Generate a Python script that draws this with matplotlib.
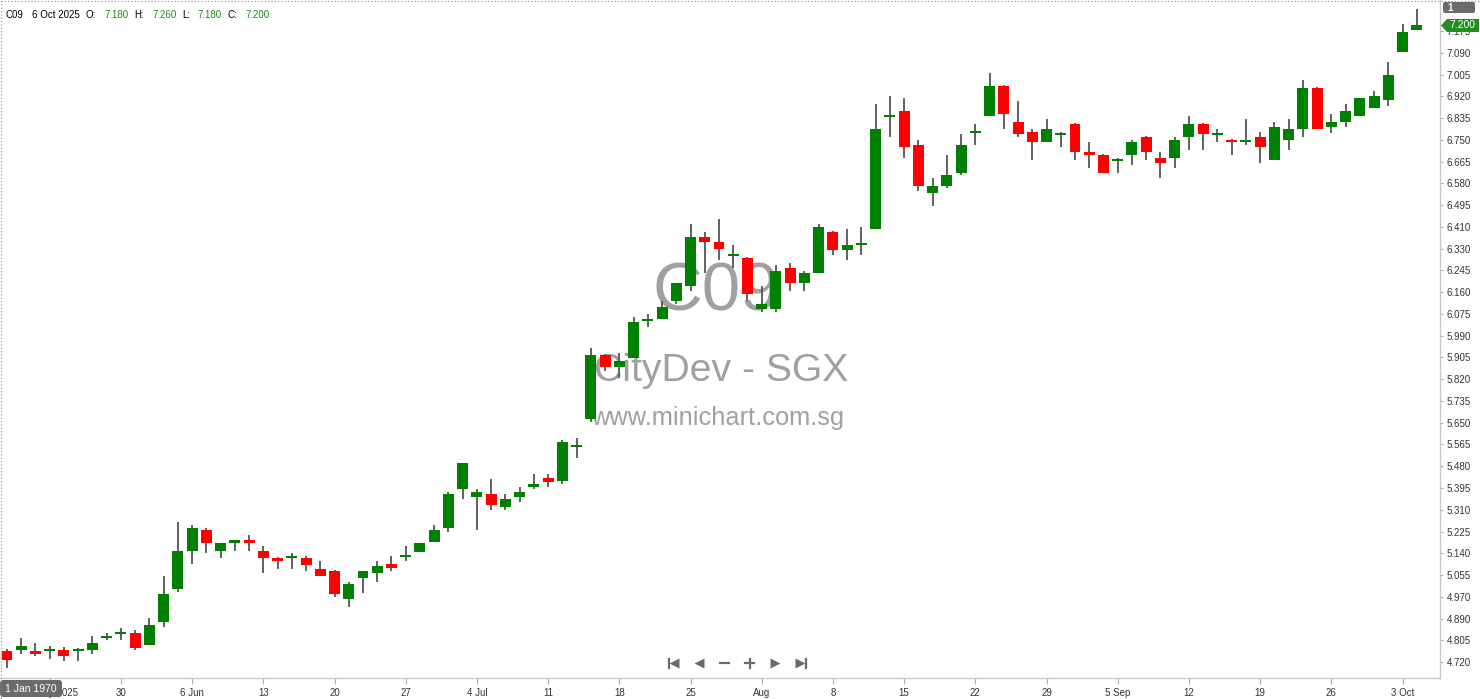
"""
C09 (CityDev - SGX) daily candlestick chart, 20 May 2025 - 6 Oct 2025.
Saves out.png (1480x699).
"""

import matplotlib
matplotlib.use("Agg")
import matplotlib.pyplot as plt
import matplotlib.patches as mpatches
import numpy as np

W, H, DPI = 1480, 699, 100

UP_COLOR = "#008000"
DOWN_COLOR = "#ff0000"
WICK_COLOR = "#555555"
TEXT_COLOR = "#333333"
FONT = "Liberation Sans"
FS = 7

TICKER = "C09"
NAME = "CityDev - SGX"
SITE = "www.minichart.com.sg"
LAST_DATE = "6 Oct 2025"

opens = [
    4.764, 4.765, 4.764, 4.762, 4.765, 4.762, 4.765, 4.813, 4.830, 4.834,
    4.787, 4.874, 5.005, 5.153, 5.234, 5.153, 5.184, 5.195, 5.152, 5.125,
    5.126, 5.125, 5.082, 5.074, 4.964, 5.046, 5.065, 5.101, 5.130, 5.147,
    5.186, 5.243, 5.394, 5.363, 5.374, 5.324, 5.363, 5.402, 5.436, 5.424,
    5.556, 5.664, 5.915, 5.867, 5.904, 6.046, 6.056, 6.126, 6.184, 6.374,
    6.354, 6.300, 6.292, 6.095, 6.095, 6.253, 6.196, 6.235, 6.393, 6.324,
    6.343, 6.406, 6.841, 6.864, 6.732, 6.546, 6.573, 6.624, 6.780, 6.846,
    6.961, 6.821, 6.782, 6.744, 6.771, 6.813, 6.703, 6.693, 6.671, 6.694,
    6.763, 6.681, 6.682, 6.764, 6.813, 6.771, 6.751, 6.744, 6.763, 6.674,
    6.752, 6.795, 6.953, 6.803, 6.822, 6.846, 6.874, 6.906, 7.094, 7.180,
]
highs = [
    4.769, 4.813, 4.795, 4.782, 4.777, 4.773, 4.821, 4.833, 4.852, 4.845,
    4.891, 5.056, 5.265, 5.253, 5.241, 5.183, 5.195, 5.214, 5.171, 5.129,
    5.145, 5.134, 5.114, 5.078, 5.032, 5.075, 5.113, 5.132, 5.171, 5.184,
    5.253, 5.383, 5.496, 5.393, 5.432, 5.374, 5.401, 5.452, 5.452, 5.584,
    5.592, 5.942, 5.918, 5.921, 6.064, 6.073, 6.123, 6.195, 6.423, 6.392,
    6.444, 6.343, 6.296, 6.183, 6.265, 6.273, 6.241, 6.424, 6.397, 6.405,
    6.413, 6.891, 6.922, 6.915, 6.751, 6.603, 6.693, 6.774, 6.813, 7.012,
    6.965, 6.903, 6.794, 6.833, 6.782, 6.817, 6.743, 6.697, 6.681, 6.751,
    6.767, 6.704, 6.763, 6.844, 6.817, 6.794, 6.755, 6.833, 6.783, 6.821,
    6.833, 6.985, 6.957, 6.851, 6.890, 6.913, 6.943, 7.055, 7.202, 7.260,
]
lows = [
    4.695, 4.752, 4.745, 4.733, 4.725, 4.725, 4.752, 4.804, 4.804, 4.765,
    4.787, 4.855, 4.993, 5.102, 5.145, 5.126, 5.153, 5.153, 5.065, 5.083,
    5.083, 5.075, 5.056, 4.974, 4.935, 4.987, 5.032, 5.075, 5.114, 5.147,
    5.186, 5.225, 5.355, 5.235, 5.313, 5.313, 5.344, 5.394, 5.401, 5.413,
    5.515, 5.655, 5.853, 5.824, 5.904, 6.025, 6.056, 6.114, 6.165, 6.235,
    6.284, 6.254, 6.126, 6.083, 6.083, 6.165, 6.165, 6.235, 6.304, 6.284,
    6.305, 6.406, 6.764, 6.682, 6.554, 6.496, 6.566, 6.615, 6.733, 6.846,
    6.795, 6.764, 6.674, 6.744, 6.724, 6.674, 6.643, 6.624, 6.624, 6.655,
    6.674, 6.604, 6.643, 6.712, 6.712, 6.744, 6.693, 6.733, 6.663, 6.674,
    6.713, 6.764, 6.795, 6.777, 6.803, 6.846, 6.874, 6.885, 7.094, 7.180,
]
closes = [
    4.727, 4.782, 4.752, 4.765, 4.745, 4.765, 4.795, 4.821, 4.834, 4.776,
    4.864, 4.985, 5.153, 5.241, 5.184, 5.183, 5.195, 5.184, 5.126, 5.114,
    5.134, 5.096, 5.056, 4.986, 5.024, 5.075, 5.094, 5.085, 5.134, 5.184,
    5.234, 5.374, 5.496, 5.381, 5.332, 5.354, 5.381, 5.414, 5.420, 5.576,
    5.562, 5.915, 5.867, 5.890, 6.042, 6.055, 6.101, 6.195, 6.374, 6.355,
    6.326, 6.304, 6.153, 6.113, 6.241, 6.196, 6.234, 6.413, 6.324, 6.343,
    6.345, 6.794, 6.845, 6.725, 6.573, 6.572, 6.615, 6.732, 6.782, 6.961,
    6.853, 6.776, 6.744, 6.794, 6.775, 6.706, 6.694, 6.624, 6.675, 6.743,
    6.706, 6.663, 6.751, 6.813, 6.776, 6.775, 6.744, 6.751, 6.725, 6.802,
    6.794, 6.953, 6.795, 6.820, 6.864, 6.913, 6.921, 7.003, 7.170, 7.200,
]

# weekly (Friday) date labels, first one falls on the 4th bar (23 May)
FIRST_TICK_BAR = 3
x_tick_labels = [
    "23 May 2025", "30", "6 Jun", "13", "20", "27", "4 Jul", "11", "18", "25",
    "Aug", "8", "15", "22", "29", "5 Sep", "12", "19", "26", "3 Oct",
]
y_tick_labels = [
    "4.720", "4.805", "4.890", "4.970", "5.055", "5.140", "5.225", "5.310",
    "5.395", "5.480", "5.565", "5.650", "5.735", "5.820", "5.905", "5.990",
    "6.075", "6.160", "6.245", "6.330", "6.410", "6.495", "6.580", "6.665",
    "6.750", "6.835", "6.920", "7.005", "7.090", "7.175",
]
Y_MIN, Y_MAX = 4.658, 7.296


def draw_candles(ax):
    o = np.array(opens)
    h = np.array(highs)
    l = np.array(lows)
    c = np.array(closes)
    x = np.arange(len(o))
    up = c >= o
    colors = np.where(up, UP_COLOR, DOWN_COLOR)

    ax.vlines(x, l, h, color=WICK_COLOR, linewidth=1.3, zorder=2)
    bottom = np.minimum(o, c)
    height = np.maximum(np.abs(c - o), 0.007)
    ax.bar(x, height, bottom=bottom, width=0.77, color=colors,
           edgecolor="none", zorder=3)


def draw_overlay(fig):
    # pixel-space overlay for header, tags, nav buttons and border
    ov = fig.add_axes([0, 0, 1, 1], zorder=10)
    ov.set_xlim(0, W)
    ov.set_ylim(H, 0)
    ov.set_axis_off()
    ov.patch.set_alpha(0)

    # header line
    green = "#1a8a1a"
    parts = [
        (TICKER, 5, "black"),
        (LAST_DATE, 32, "black"),
        ("O:", 86, "black"),
        (f"{opens[-1]:.3f}", 104, green),
        ("H:", 134, "black"),
        (f"{highs[-1]:.3f}", 152, green),
        ("L:", 182, "black"),
        (f"{lows[-1]:.3f}", 197, green),
        ("C:", 228, "black"),
        (f"{closes[-1]:.3f}", 245, green),
    ]
    for txt, px, col in parts:
        ov.text(px, 15, txt, color=col, fontsize=FS, va="center",
                ha="left", family=FONT)

    # "1" box top right
    ov.add_patch(mpatches.FancyBboxPatch(
        (1443, 2), 32, 11, boxstyle="round,pad=0,rounding_size=2",
        facecolor="#6b6b6b", edgecolor="none"))
    ov.text(1447, 8, "1", color="white", fontsize=FS, fontweight="bold",
            va="center", ha="left", family=FONT)

    # last price tag
    tag = mpatches.Polygon(
        [(1441, 25.5), (1447, 19), (1479, 19), (1479, 32), (1447, 32)],
        closed=True, facecolor="#1f8f1f", edgecolor="none")
    ov.add_patch(tag)
    ov.text(1462, 25.5, f"{closes[-1]:.3f}", color="white", fontsize=FS + 0.5,
            va="center", ha="center", family=FONT)

    # "1 Jan 1970" box bottom left
    ov.add_patch(mpatches.FancyBboxPatch(
        (0, 680), 62, 17, boxstyle="round,pad=0,rounding_size=3",
        facecolor="#6b6b6b", edgecolor="none"))
    ov.text(31, 688.5, "1 Jan 1970", color="white", fontsize=FS + 0.5,
            va="center", ha="center", family=FONT)

    # navigation buttons
    nav = "#6a6a6a"
    yb = 663
    ov.plot([668.5, 668.5], [yb - 4.5, yb + 4.5], color=nav, lw=1.6)
    ov.plot(674, yb, marker="<", ms=7, color=nav, mec="none")
    ov.plot(699, yb, marker="<", ms=7, color=nav, mec="none")
    ov.plot([720, 729], [yb, yb], color=nav, lw=1.6)
    ov.plot([745, 754], [yb, yb], color=nav, lw=1.6)
    ov.plot([749.5, 749.5], [yb - 4.5, yb + 4.5], color=nav, lw=1.6)
    ov.plot(775, yb, marker=">", ms=7, color=nav, mec="none")
    ov.plot(800, yb, marker=">", ms=7, color=nav, mec="none")
    ov.plot([805.5, 805.5], [yb - 4.5, yb + 4.5], color=nav, lw=1.6)

    # dotted outer border
    ov.add_patch(mpatches.Rectangle((0.5, 0.5), W - 1, H - 1, fill=False,
                                    edgecolor="#888888", linestyle=(0, (1, 2)),
                                    linewidth=0.8))


def main():
    fig = plt.figure(figsize=(W / DPI, H / DPI), dpi=DPI)
    fig.patch.set_facecolor("white")

    ax = fig.add_axes([0, 21 / H, 1440 / W, 678 / H])
    n = len(opens)
    px_per_bar = 14.24
    ax.set_xlim(-7 / px_per_bar, (1440 - 7) / px_per_bar)
    ax.set_ylim(Y_MIN, Y_MAX)

    # watermark
    wm = "#a0a0a0"
    ax.text(0.497, 0.568, TICKER, transform=ax.transAxes, fontsize=49.7,
            color=wm, ha="center", va="center", family="Liberation Sans", zorder=1)
    ax.text(0.501, 0.453, NAME, transform=ax.transAxes, fontsize=28.2,
            color=wm, ha="center", va="center", family="Liberation Sans", zorder=1)
    ax.text(0.498, 0.384, SITE, transform=ax.transAxes, fontsize=18.3,
            color=wm, ha="center", va="center", family="Liberation Sans", zorder=1)

    draw_candles(ax)

    # axes styling
    for s in ["top", "left"]:
        ax.spines[s].set_visible(False)
    for s in ["right", "bottom"]:
        ax.spines[s].set_color("#c8c8c8")
        ax.spines[s].set_linewidth(1)

    ax.yaxis.tick_right()
    yticks = np.linspace(float(y_tick_labels[0]), float(y_tick_labels[-1]),
                         len(y_tick_labels))
    ax.set_yticks(yticks)
    ax.set_yticklabels(y_tick_labels)
    ax.tick_params(axis="y", length=2.2, width=0.8, color="#aaaaaa", pad=2.7,
                   labelsize=FS, labelcolor=TEXT_COLOR)

    xticks = np.arange(FIRST_TICK_BAR, n, 5)[:len(x_tick_labels)]
    ax.set_xticks(xticks)
    ax.set_xticklabels(x_tick_labels)
    ax.tick_params(axis="x", length=4, width=0.8, color="#aaaaaa", pad=3,
                   labelsize=FS, labelcolor=TEXT_COLOR)
    for lbl in ax.get_xticklabels() + ax.get_yticklabels():
        lbl.set_family(FONT)

    draw_overlay(fig)

    fig.savefig("out.png", dpi=DPI)
    plt.close(fig)


if __name__ == "__main__":
    main()
